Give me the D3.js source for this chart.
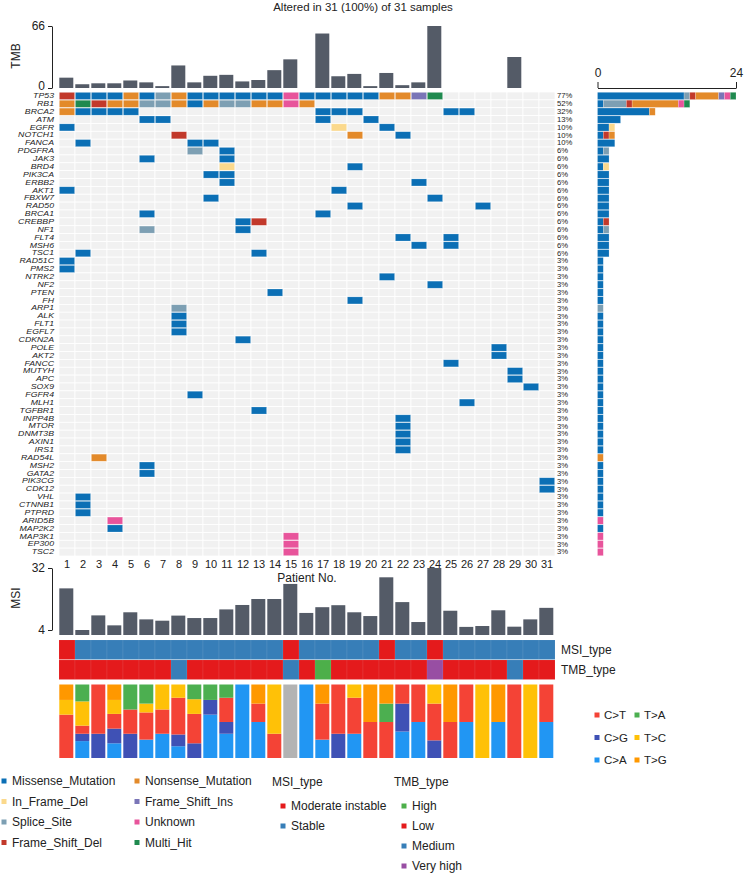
<!DOCTYPE html>
<html>
<head>
<meta charset="utf-8">
<script src="https://cdn.jsdelivr.net/npm/d3@7/dist/d3.min.js"></script>
<style>
  body { margin: 0; background: #fff; }
  text { font-family: "Liberation Sans", Arial, Helvetica, sans-serif; fill: #222; }
</style>
</head>
<body>
<div id="chart"></div>
<script>
// ---- data ----
const patients = [1,2,3,4,5,6,7,8,9,10,11,12,13,14,15,16,17,18,19,20,21,22,23,24,25,26,27,28,29,30,31];
const tmb = [11,4,5,5,8,6,2,24,6,13,14,7,8.5,19,30.5,0,58,12.5,15,2,16,3,6,66,0,0,0,0,33,0,0];
const msi = [22.8,4,10.6,6.1,12,8.8,8.2,10.5,9.4,9.4,13.3,15.3,18,18,24.8,11.7,14.3,15.2,12,10.3,27.8,16.6,7.6,32,12.7,5.4,5.8,12.9,5.5,8.8,14];
// S = Stable, M = Moderate instable
const msiType = ["M","S","S","S","S","S","S","S","S","S","S","S","S","S","M","S","S","S","S","S","M","S","S","M","S","S","S","S","S","S","S"];
// L = Low, M = Medium, H = High, V = Very high
const tmbType = ["L","L","L","L","L","L","L","M","L","L","L","L","L","L","M","L","H","L","L","L","L","L","L","V","L","L","L","L","M","L","L"];

const genes = ["TP53","RB1","BRCA2","ATM","EGFR","NOTCH1","FANCA","PDGFRA","JAK3","BRD4","PIK3CA","ERBB2","AKT1","FBXW7","RAD50","BRCA1","CREBBP","NF1","FLT4","MSH6","TSC1","RAD51C","PMS2","NTRK2","NF2","PTEN","FH","ARP1","ALK","FLT1","EGFL7","CDKN2A","POLE","AKT2","FANCC","MUTYH","APC","SOX9","FGFR4","MLH1","TGFBR1","INPP4B","MTOR","DNMT3B","AXIN1","IRS1","RAD54L","MSH2","GATA2","PIK3CG","CDK12","VHL","CTNNB1","PTPRD","ARID5B","MAP2K2","MAP3K1","EP300","TSC2"];
// code + patient no.  M Missense, I In_Frame_Del, S Splice_Site, D Frame_Shift_Del,
// N Nonsense, F Frame_Shift_Ins, U Unknown, H Multi_Hit
const geneHits = [
  "D1 M2 M3 M4 N5 M6 S7 N8 M9 M10 M11 M12 M13 M14 U15 M16 M17 M18 M19 M20 N21 N22 F23 H24",
  "N1 H2 D3 N4 N5 S6 S7 N8 M9 N10 S11 S12 N13 N14 U15 N16",
  "N1 M2 M3 M4 M5 M17 M18 M19 M25 M26",
  "M6 M7 M17 M20",
  "M1 I18 M21",
  "D8 N19 M22",
  "M2 M9 M10",
  "S9 M11",
  "M6 M11",
  "I11 M19",
  "M10 M11",
  "M11 M23",
  "M1 M18",
  "M10 M24",
  "M19 M27",
  "M6 M17",
  "M12 D13",
  "S6 M12",
  "M22 M25",
  "M23 M25",
  "M2 M13",
  "M1", "M1", "M21", "M24", "M14", "M19",
  "S8", "M8", "M8", "M8", "M12",
  "M28", "M28", "M25", "M29", "M29", "M30",
  "M9", "M26", "M13",
  "M22", "M22", "M22", "M22", "M22",
  "N3", "M6", "M6", "M31", "M31",
  "M2", "M2", "M2",
  "U4", "M4", "U15", "U15", "U15"
];

const varCodes = ["M","I","S","D","N","F","U","H"];
const varNames = ["Missense_Mutation","In_Frame_Del","Splice_Site","Frame_Shift_Del","Nonsense_Mutation","Frame_Shift_Ins","Unknown","Multi_Hit"];
const varColors = ["#0b6fb5","#fbd98c","#7d9fb3","#c2392b","#e38a2a","#7a75b7","#e8549b","#1f8a4f"];

// mutational spectrum (% per patient), stacked bottom -> top
const specKeys = ["C>A","C>G","C>T","T>C","T>A","T>G"];
const specCA = [0,23,0,20,0,25,33,16,0,59,33,100,49,0,0,100,25,0,33,0,0,36,49,0,0,49,0,49,0,0,49];
const specCG = [0,10,33,20,33,0,0,16,20,20,16,0,0,0,0,0,0,33,0,0,0,38,0,24,0,0,0,0,0,0,0];
const specCT = [59,11,67,20,33,37,33,50,40,0,33,0,25,33,0,0,49,67,49,49,49,26,51,50,49,51,0,0,100,0,51];
const specTC = [20,33,0,19,0,12,34,18,20,0,0,0,0,67,0,0,0,0,18,0,0,0,0,26,0,0,100,0,0,100,0];
const specTA = [0,23,0,0,34,26,0,0,20,21,18,0,0,0,0,0,0,0,0,0,25,0,0,0,0,0,0,0,0,0,0];
const specTG = [21,0,0,21,0,0,0,0,0,0,0,0,26,0,0,0,26,0,0,51,26,0,0,0,51,0,0,51,0,0,0];
const specColors = {"C>T":"#f44336","C>G":"#3f51b5","C>A":"#2196f3","T>A":"#4caf50","T>C":"#ffc107","T>G":"#ff9800"};

const msiNames = {M: "Moderate instable", S: "Stable"};
const msiColors = {M: "#e41a1c", S: "#377eb8"};
const tmbNames = {H: "High", L: "Low", M: "Medium", V: "Very high"};
const tmbColors = {H: "#4daf4a", L: "#e41a1c", M: "#377eb8", V: "#984ea3"};

// ---- layout ----
const W = 745, H = 873;
const svg = d3.select("#chart").append("svg").attr("width", W).attr("height", H);

const x = d3.scaleBand().domain(patients).range([59, 555]);
const y = d3.scaleBand().domain(genes).range([92, 556]);
const bw = x.bandwidth();
const barColor = "#545b67";

// build matrix table
const hits = [];
geneHits.forEach((s, gi) => {
  s.split(" ").forEach(t => {
    hits.push({gene: genes[gi], code: t[0], patient: +t.slice(1)});
  });
});
const colorOf = c => varColors[varCodes.indexOf(c)];

// title
svg.append("text").attr("x", 363).attr("y", 11).attr("text-anchor", "middle")
  .style("font-size", "11.5px").text("Altered in 31 (100%) of 31 samples");

// ---- TMB bars ----
const yT = d3.scaleLinear().domain([0, 66]).range([88, 26]);
svg.append("g").selectAll("rect").data(patients).enter().append("rect")
  .attr("x", d => x(d) + 0.3)
  .attr("width", bw - 2)
  .attr("y", (d, i) => yT(tmb[i]))
  .attr("height", (d, i) => yT(0) - yT(tmb[i]))
  .attr("fill", barColor);

function leftAxis(scale, ticks){
  const g = svg.append("g").attr("transform", "translate(52,0)")
    .call(d3.axisLeft(scale).tickValues(ticks).tickSize(4).tickSizeOuter(0));
  g.select(".domain").attr("stroke", "#222");
  g.selectAll(".tick line").attr("stroke", "#222");
  g.selectAll("text").style("font-size", "12px").attr("fill", "#222")
    .style("font-family", "Liberation Sans, Arial, sans-serif");
  return g;
}
const tAxis = leftAxis(yT, [0, 66]);
// lift the "0" a touch so it clears the first gene label
tAxis.selectAll(".tick text").filter(d => d === 0).attr("dy", "0.12em");
svg.append("text").attr("transform", "translate(20,56) rotate(-90)")
  .attr("text-anchor", "middle").style("font-size", "12px").text("TMB");

// ---- oncoplot matrix ----
const grid = [];
genes.forEach(g => patients.forEach(p => grid.push({gene: g, patient: p})));
svg.append("g").selectAll("rect").data(grid).enter().append("rect")
  .attr("x", d => x(d.patient)).attr("y", d => y(d.gene))
  .attr("width", bw).attr("height", y.bandwidth())
  .attr("fill", "#f1f1f1").attr("stroke", "#fff").attr("stroke-width", 0.8);

svg.append("g").selectAll("rect").data(hits).enter().append("rect")
  .attr("x", d => x(d.patient) + 0.4).attr("y", d => y(d.gene) + 0.4)
  .attr("width", bw - 0.8).attr("height", y.bandwidth() - 0.8)
  .attr("fill", d => colorOf(d.code))
  .attr("stroke", "#fff").attr("stroke-opacity", 0.35).attr("stroke-width", 0.6);

// gene labels (small font, stretched sideways so rows don't collide)
svg.append("g").selectAll("text").data(genes).enter().append("text")
  .attr("transform", d => `translate(54,${y(d) + y.bandwidth() / 2}) scale(1.25,1)`)
  .attr("text-anchor", "end").attr("dominant-baseline", "central")
  .style("font-size", "7px").style("font-style", "italic")
  .text(d => d);

// percent labels
const counts = genes.map(g => hits.filter(h => h.gene === g).length);
svg.append("g").selectAll("text").data(genes).enter().append("text")
  .attr("transform", d => `translate(557,${y(d) + y.bandwidth() / 2}) scale(1.1,1)`)
  .attr("dominant-baseline", "central")
  .style("font-size", "7px").attr("fill", "#333")
  .text((d, i) => Math.round(counts[i] / 31 * 100) + "%");

// ---- right side bars ----
const xR = d3.scaleLinear().domain([0, 24]).range([597.5, 736]);
const sideSegs = [];
genes.forEach(g => {
  let acc = 0;
  varCodes.forEach(c => {
    const n = hits.filter(h => h.gene === g && h.code === c).length;
    if (n > 0) { sideSegs.push({gene: g, code: c, x0: acc, x1: acc + n}); acc += n; }
  });
});
svg.append("g").selectAll("rect").data(sideSegs).enter().append("rect")
  .attr("x", d => xR(d.x0)).attr("width", d => xR(d.x1) - xR(d.x0))
  .attr("y", d => y(d.gene) + 0.3).attr("height", y.bandwidth() - 0.6)
  .attr("fill", d => colorOf(d.code))
  .attr("stroke", "#fff").attr("stroke-opacity", 0.4).attr("stroke-width", 0.5);

const rAxis = svg.append("g").attr("transform", "translate(0,88)")
  .call(d3.axisTop(xR).tickValues([0, 24]).tickSize(6).tickSizeOuter(0));
rAxis.select(".domain").attr("stroke", "#222");
rAxis.selectAll(".tick line").attr("stroke", "#222");
rAxis.selectAll("text").style("font-size", "12px").attr("fill", "#222").attr("dy", "-0.2em")
  .style("font-family", "Liberation Sans, Arial, sans-serif");

// patient numbers
svg.append("g").selectAll("text").data(patients).enter().append("text")
  .attr("x", d => x(d) + bw / 2).attr("y", 568)
  .attr("text-anchor", "middle").style("font-size", "11px").text(d => d);
svg.append("text").attr("x", 307).attr("y", 582).attr("text-anchor", "middle")
  .style("font-size", "12px").text("Patient No.");

// ---- MSI bars ----
const yM = d3.scaleLinear().domain([4, 32]).range([630, 568]);
const msiBase = 635;
svg.append("g").selectAll("rect").data(patients).enter().append("rect")
  .attr("x", d => x(d) + 0.3).attr("width", bw - 2)
  .attr("y", (d, i) => yM(msi[i]))
  .attr("height", (d, i) => msiBase - yM(msi[i]))
  .attr("fill", barColor);
leftAxis(yM, [4, 32]);
svg.append("text").attr("transform", "translate(20,598) rotate(-90)")
  .attr("text-anchor", "middle").style("font-size", "12px").text("MSI");

// ---- MSI_type / TMB_type rows ----
const typeRows = [
  {name: "MSI_type", vals: msiType, colors: msiColors, y0: 640},
  {name: "TMB_type", vals: tmbType, colors: tmbColors, y0: 660}
];
typeRows.forEach(r => {
  svg.append("g").selectAll("rect").data(patients).enter().append("rect")
    .attr("x", d => x(d)).attr("width", bw)
    .attr("y", r.y0).attr("height", 19.5)
    .attr("fill", (d, i) => r.colors[r.vals[i]])
    .attr("stroke", "#fff").attr("stroke-opacity", 0.15).attr("stroke-width", 0.5);
  svg.append("text").attr("x", 561).attr("y", r.y0 + 10)
    .attr("dominant-baseline", "central").style("font-size", "12px").text(r.name);
});

// ---- mutational spectrum ----
const specRows = patients.map((p, i) => ({
  patient: p, "C>A": specCA[i], "C>G": specCG[i], "C>T": specCT[i],
  "T>C": specTC[i], "T>A": specTA[i], "T>G": specTG[i]
}));
const yS = d3.scaleLinear().domain([0, 1]).range([758, 684.5]);
const totals = specRows.map(r => d3.sum(specKeys, k => r[k]));
svg.append("g").selectAll("rect").data(patients.filter((p, i) => totals[i] === 0)).enter().append("rect")
  .attr("x", d => x(d) + 0.3).attr("width", bw - 2)
  .attr("y", yS(1)).attr("height", yS(0) - yS(1)).attr("fill", "#b3b3b3");
const stacked = d3.stack().keys(specKeys).offset(d3.stackOffsetExpand)(specRows);
svg.append("g").selectAll("g").data(stacked).enter().append("g")
  .attr("fill", d => specColors[d.key])
  .selectAll("rect").data(d => d.filter(s => !isNaN(s[1]) && s[1] > s[0])).enter().append("rect")
  .attr("x", d => x(d.data.patient) + 0.3).attr("width", bw - 2)
  .attr("y", d => yS(d[1])).attr("height", d => yS(d[0]) - yS(d[1]));

// spectrum legend
const specLegend = [["C>T", 0, 0], ["T>A", 1, 0], ["C>G", 0, 1], ["T>C", 1, 1], ["C>A", 0, 2], ["T>G", 1, 2]];
const sl = svg.append("g").selectAll("g").data(specLegend).enter().append("g")
  .attr("transform", d => `translate(${597 + d[1] * 40},${715 + d[2] * 22.5})`);
sl.append("rect").attr("x", -2.5).attr("y", -2.5).attr("width", 5).attr("height", 5)
  .attr("fill", d => specColors[d[0]]);
sl.append("text").attr("x", 7).attr("dominant-baseline", "central")
  .style("font-size", "11.5px").text(d => d[0]);

// ---- bottom legends ----
function legendItems(items, x0, y0, dy){
  const g = svg.append("g").selectAll("g").data(items).enter().append("g")
    .attr("transform", (d, i) => `translate(${x0},${y0 + i * dy})`);
  g.append("rect").attr("x", -2.5).attr("y", -2.5).attr("width", 5).attr("height", 5)
    .attr("fill", d => d.color);
  g.append("text").attr("x", 8).attr("dominant-baseline", "central")
    .style("font-size", "12px").text(d => d.name);
}
const vItems = varNames.map((n, i) => ({name: n, color: varColors[i]}));
legendItems(vItems.slice(0, 4), 4, 781, 20.5);
legendItems(vItems.slice(4), 137, 781, 20.5);

svg.append("text").attr("x", 272).attr("y", 782).attr("dominant-baseline", "central")
  .style("font-size", "12px").text("MSI_type");
legendItems(["M", "S"].map(k => ({name: msiNames[k], color: msiColors[k]})), 283, 806, 20);

svg.append("text").attr("x", 394).attr("y", 782).attr("dominant-baseline", "central")
  .style("font-size", "12px").text("TMB_type");
legendItems(["H", "L", "M", "V"].map(k => ({name: tmbNames[k], color: tmbColors[k]})), 404, 806, 20);
</script>
</body>
</html>
